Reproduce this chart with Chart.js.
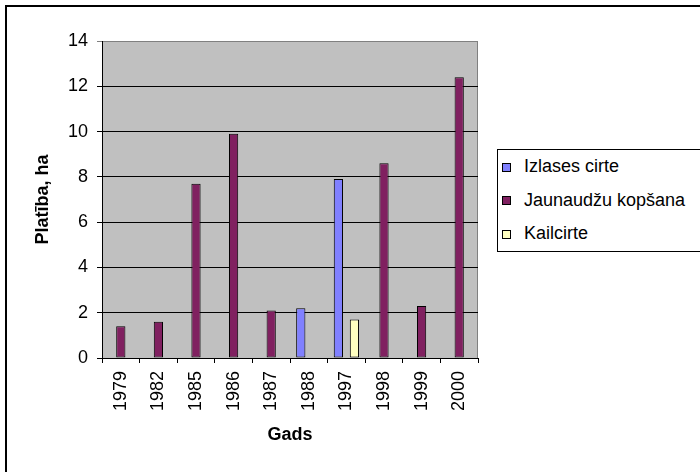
<!DOCTYPE html>
<html lang="lv">
<head>
    <meta charset="UTF-8">
    <title>Platība pa gadiem</title>
    <script src="https://cdn.jsdelivr.net/npm/chart.js"></script>
    <style>
        body {
            margin: 0;
            padding: 0;
            background: #fff;
            font-family: "Liberation Sans", Arial, sans-serif;
        }
        .wrap {
            position: relative;
            width: 700px;
            height: 472px;
            overflow: hidden;
        }
        .frame {
            position: absolute;
            left: 5px;
            top: 5px;
            width: 720px;
            height: 490px;
            border: 2px solid #000;
        }
        canvas {
            position: absolute;
            left: 0;
            top: 0;
        }
        .legend {
            position: absolute;
            left: 497px;
            top: 149px;
            width: 240px;
            height: 101px;
            border: 1px solid #000;
            background: #fff;
        }
        .legend-item {
            height: 33.5px;
            line-height: 33.5px;
            font-size: 18px;
            white-space: nowrap;
            padding-left: 4px;
        }
        .legend-item .box {
            display: inline-block;
            width: 7px;
            height: 7px;
            border: 1px solid #000;
            margin-right: 13px;
            vertical-align: middle;
        }
    </style>
</head>
<body>
    <div class="wrap">
        <div class="frame"></div>
        <canvas id="chart" width="700" height="472"></canvas>
        <div class="legend" id="legend"></div>
    </div>

    <script>
        // gadi un platības (ha)
        const years = ["1979", "1982", "1985", "1986", "1987", "1988", "1997", "1998", "1999", "2000"];
        const izlasesCirte = [null, null, null, null, null, 2.2, 7.9, null, null, null];
        const jaunaudzuKopsana = [1.4, 1.6, 7.7, 9.9, 2.1, null, null, 8.6, 2.3, 12.4];
        const kailcirte = [null, null, null, null, null, null, 1.7, null, null, null];
        const yTicks = [0, 2, 4, 6, 8, 10, 12, 14];

        const seriesNames = ["Izlases cirte", "Jaunaudžu kopšana", "Kailcirte"];
        const seriesColors = ["#8080ff", "#802060", "#ffffc0"];

        const fontFamily = "'Liberation Sans', Arial, sans-serif";

        // pelēkais fons zem grafika
        const plotBg = {
            id: "plotBg",
            beforeDraw(chart) {
                const a = chart.chartArea;
                const c = chart.ctx;
                c.save();
                c.fillStyle = "#c0c0c0";
                c.fillRect(a.left, a.top, a.right - a.left, a.bottom - a.top);
                c.strokeStyle = "#808080";
                c.lineWidth = 1;
                c.beginPath();
                c.moveTo(Math.round(a.right) - 0.5, a.top);
                c.lineTo(Math.round(a.right) - 0.5, a.bottom);
                c.stroke();
                c.restore();
            }
        };

        const ctx = document.getElementById("chart").getContext("2d");
        const chart = new Chart(ctx, {
            type: "bar",
            data: {
                labels: years,
                datasets: [izlasesCirte, jaunaudzuKopsana, kailcirte].map((d, i) => ({
                    label: seriesNames[i],
                    data: d,
                    backgroundColor: seriesColors[i],
                    borderColor: "#000",
                    borderWidth: 1,
                    borderSkipped: false,
                    categoryPercentage: 0.64,
                    barPercentage: 1.15
                }))
            },
            options: {
                responsive: false,
                animation: false,
                layout: {
                    padding: { left: 32, top: 41, right: 222, bottom: 26 }
                },
                plugins: {
                    legend: { display: false },
                    tooltip: { enabled: false }
                },
                scales: {
                    x: {
                        grid: {
                            offset: true,
                            drawOnChartArea: false,
                            drawTicks: true,
                            tickLength: 5,
                            color: "#000"
                        },
                        border: { color: "#000", width: 1 },
                        ticks: {
                            minRotation: 90,
                            maxRotation: 90,
                            padding: 8,
                            color: "#000",
                            font: { family: fontFamily, size: 18 }
                        },
                        title: {
                            display: true,
                            text: "Gads",
                            color: "#000",
                            padding: { top: 0, bottom: 0 },
                            font: { family: fontFamily, size: 18, weight: "bold" }
                        },
                        afterFit(scale) {
                            scale.height = 88;
                        }
                    },
                    y: {
                        min: 0,
                        max: 14,
                        afterBuildTicks(scale) {
                            scale.ticks = yTicks.map(v => ({ value: v }));
                        },
                        grid: {
                            color: c => (c.tick && c.tick.value === 14 ? "#808080" : "#000"),
                            tickLength: 5
                        },
                        border: { color: "#000", width: 1 },
                        ticks: {
                            padding: 9,
                            color: "#000",
                            font: { family: fontFamily, size: 18 }
                        },
                        title: {
                            display: true,
                            text: "Platība, ha",
                            color: "#000",
                            padding: { top: 0, bottom: 0 },
                            font: { family: fontFamily, size: 18, weight: "bold" }
                        },
                        afterFit(scale) {
                            scale.width = 70;
                        }
                    }
                }
            },
            plugins: [plotBg]
        });

        // leģenda
        const legendEl = document.getElementById("legend");
        chart.data.datasets.forEach(ds => {
            let item = document.createElement("div");
            item.classList.add("legend-item");
            item.innerHTML = `<span class="box" style="background:${ds.backgroundColor}"></span>${ds.label}`;
            legendEl.appendChild(item);
        });
    </script>
</body>
</html>
